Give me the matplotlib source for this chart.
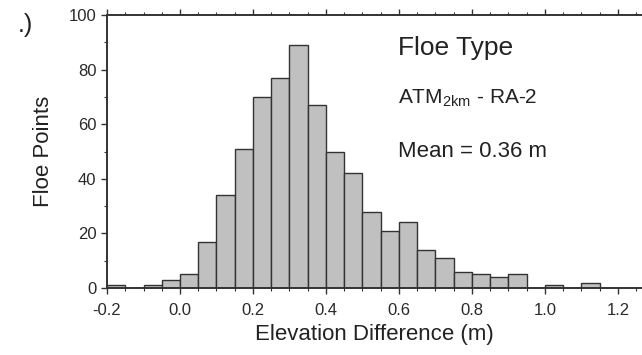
import matplotlib
matplotlib.use('Agg')

import matplotlib.pyplot as plt
import numpy as np
from matplotlib.ticker import MultipleLocator

# bin edges every 0.05 m, counts
bin_left = np.round(np.arange(-0.2, 1.2, 0.05), 2)
counts = [1, 0, 1, 3, 5, 17, 34, 51, 70, 77, 89, 67, 50, 42,
          28, 21, 24, 14, 11, 6, 5, 4, 5, 0, 1, 0, 2, 0]
bin_width = 0.05
x_ticks = [-0.2, 0.0, 0.2, 0.4, 0.6, 0.8, 1.0, 1.2]
y_ticks = [0, 20, 40, 60, 80, 100]

plt.rcParams['font.family'] = ['Liberation Sans', 'DejaVu Sans']

fig = plt.figure(figsize=(6.42, 3.55), dpi=100)
ax = fig.add_axes([0.1667, 0.1887, 0.8333, 0.769])

ax.bar(bin_left, counts, width=bin_width, align='edge',
       color='#c0c0c0', edgecolor='#333333', linewidth=1.0)

ax.set_xlim(-0.2, 1.266)
ax.set_ylim(0, 100)
ax.set_xticks(x_ticks)
ax.set_xticklabels([f'{v:.1f}' for v in x_ticks])
ax.set_yticks(y_ticks)
ax.xaxis.set_minor_locator(MultipleLocator(0.05))
ax.yaxis.set_minor_locator(MultipleLocator(10))
ax.tick_params(which='both', direction='out', top=True, right=False,
               colors='#333333')
ax.tick_params(which='major', length=4.5, width=1, labelsize=12,
               labelcolor='#2a2a2a')
ax.tick_params(which='minor', length=2.5, width=0.8)
ax.tick_params(axis='x', pad=6.5)
ax.tick_params(axis='y', pad=3)

ax.spines['right'].set_visible(False)
for s in ['left', 'top', 'bottom']:
    ax.spines[s].set_linewidth(1.4)
    ax.spines[s].set_color('#333333')

ax.set_xlabel('Elevation Difference (m)', fontsize=16, color='#222222', labelpad=4)
ax.set_ylabel('Floe Points', fontsize=16, color='#222222', labelpad=11)

ax.text(0.544, 0.853, 'Floe Type', transform=ax.transAxes, fontsize=19,
        color='#222222', va='baseline')
ax.text(0.544, 0.678, r'ATM$_{\mathregular{2km}}$ - RA-2', transform=ax.transAxes,
        fontsize=15, color='#222222', va='baseline')
ax.text(0.544, 0.48, 'Mean = 0.36 m', transform=ax.transAxes, fontsize=16,
        color='#222222', va='baseline')

fig.text(0.027, 0.93, '.)', fontsize=18, color='#222222', va='center', ha='left')

fig.savefig('out.png', dpi=100)
